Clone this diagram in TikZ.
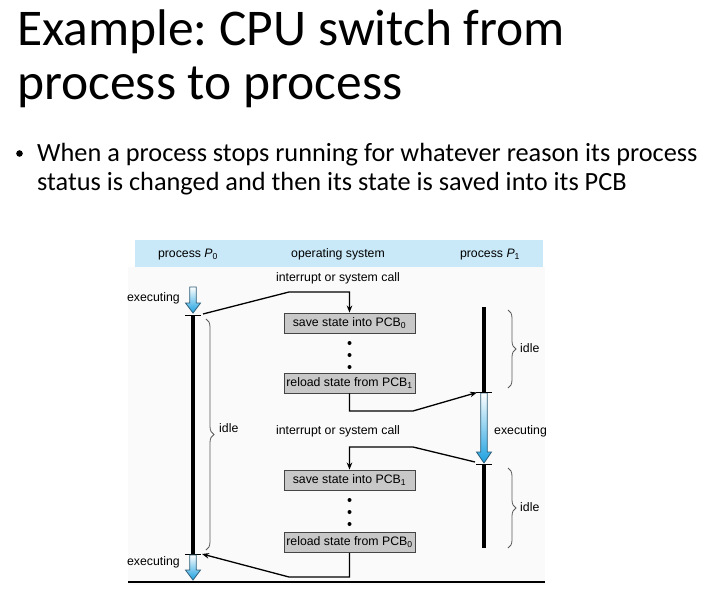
\documentclass[tikz,border=0pt]{standalone}
\usepackage{fontspec}
\setmainfont{Carlito}
\newfontfamily\diagfont{Liberation Sans}
\usetikzlibrary{arrows.meta,decorations.pathreplacing}
\frenchspacing

\definecolor{bandblue}{HTML}{C9E9F8}
\definecolor{boxgray}{HTML}{C8C8C8}
\definecolor{boxedge}{HTML}{454545}
\definecolor{cpublue}{HTML}{1AA0E0}
\definecolor{cpuedge}{HTML}{2F5F78}
\definecolor{bracegray}{HTML}{5A5A5A}
\definecolor{panel}{HTML}{FAFAFA}

% hollow shaded arrow marking an executing interval: x, shaft top, head base, tip
\newcommand\execarrow[4]{%
  \draw[cpuedge, line width=0.8pt, top color=white, bottom color=cpublue]
    ({#1-3.3},#2) -- ({#1+3.3},#2) -- ({#1+3.3},#3) -- ({#1+7.5},#3) -- (#1,#4)
    -- ({#1-7.5},#3) -- ({#1-3.3},#3) -- cycle;}

\tikzset{
  lbl/.style={font=\diagfont\fontsize{12.3}{14}\selectfont, inner sep=0pt},
  heading/.style={anchor=base west, inner sep=0pt, font=\fontsize{51.5}{56}\selectfont},
  bodytext/.style={anchor=base west, inner sep=0pt, font=\fontsize{26.3}{30}\selectfont},
  statebox/.style={draw=boxedge, line width=0.9pt, fill=boxgray,
    minimum width=131pt, minimum height=20pt, inner sep=1pt,
    font=\diagfont\fontsize{12.3}{14}\selectfont},
  timeline/.style={line width=3.4pt, black},
  tick/.style={line width=0.8pt, black},
  flow/.style={line width=1.3pt, black, -{Stealth[length=7pt,width=5.5pt]}},
  idlebrace/.style={bracegray, line width=0.8pt,
    decorate, decoration={brace, amplitude=8pt, aspect=0.5}},
}

\begin{document}
\begin{tikzpicture}[x=1pt, y=-1pt]
\useasboundingbox (0,0) rectangle (715,591);
\fill[white] (0,0) rectangle (715,591);

% slide heading and bullet
\node[heading] (title1) at (17,46) {Example: CPU switch from};
\node[heading] (title2) at (17,100) {process to process};
\fill (19.5,153.5) circle (3.3pt);
\node[bodytext] (text1) at (37,162) {When a process stops running for whatever reason its process};
\node[bodytext] (text2) at (37,190) {status is changed and then its state is saved into its PCB};

% panel and column header band
\fill[panel] (128,267) rectangle (545,585);
\fill[bandblue] (135,240) rectangle (543,267);
\node[lbl, anchor=base] (hp0) at (188,257.5) {process \textit{P}\textsubscript{0}};
\node[lbl, anchor=base] (hos) at (338,257.5) {operating system};
\node[lbl, anchor=base] (hp1) at (490,257.5) {process \textit{P}\textsubscript{1}};

% key points on the two process timelines
\coordinate (p0a) at (193,315);
\coordinate (p0b) at (193,554);
\coordinate (p1a) at (484,307);
\coordinate (p1b) at (484,392);
\coordinate (p1c) at (484,464);
\coordinate (p1d) at (484,548);

% process P0 timeline
\execarrow{193}{287}{303}{313}
\draw[timeline] (p0a) -- (p0b);
\draw[tick] ([xshift=-8pt]p0a) -- ([xshift=8pt]p0a);
\draw[tick] ([xshift=-8pt]p0b) -- ([xshift=8pt]p0b);
\execarrow{193}{555}{570}{580}

% process P1 timeline
\draw[timeline] (p1a) -- (p1b);
\execarrow{484}{393}{452}{463}
\draw[timeline] (p1c) -- (p1d);
\draw[tick] ([xshift=-8pt]p1b) -- ([xshift=8pt]p1b);
\draw[tick] ([xshift=-8pt]p1c) -- ([xshift=8pt]p1c);

% operating system boxes
\node[statebox] (save0) at (349.5,323) {save state into PCB\textsubscript{0}};
\node[statebox] (reload1) at (349.5,383) {reload state from PCB\textsubscript{1}};
\node[statebox] (save1) at (349.5,480) {save state into PCB\textsubscript{1}};
\node[statebox] (reload0) at (349.5,542.5) {reload state from PCB\textsubscript{0}};

\foreach \y in {343,355,367,500,512,524} \fill (349.5,\y) circle (2pt);

% labels
\node[lbl, anchor=base] (irq1) at (338,281) {interrupt or system call};
\node[lbl, anchor=base] (irq2) at (338,434) {interrupt or system call};
\node[lbl, anchor=base east] (ex0a) at (180,301) {executing};
\node[lbl, anchor=base east] (ex0b) at (180,565) {executing};
\node[lbl, anchor=base west] (ex1) at (494,434) {executing};

% idle braces
\draw[idlebrace] (206,319) -- (206,550);
\node[lbl, anchor=base west] (idle0) at (219,432) {idle};
\draw[idlebrace] (508,310) -- (508,388);
\node[lbl, anchor=base west] (idle1a) at (520,352) {idle};
\draw[idlebrace] (508,468) -- (508,548);
\node[lbl, anchor=base west] (idle1b) at (520,511) {idle};

% control transfers
\coordinate (out0) at (203,314);
\coordinate (in1) at (477,392.5);
\coordinate (out1) at (475,462);
\coordinate (in0) at (202,554);
\draw[flow] (out0) -- (289,292) -| (save0.north);
\draw[flow] (reload1.south) |- (413,411) -- (in1);
\draw[flow] (out1) -- (413,447) -| (save1.north);
\draw[flow] (reload0.south) |- (289,577) -- (in0);

% base line
\draw[line width=1.2pt] (128,582) -- (545,582);
\end{tikzpicture}
\end{document}
